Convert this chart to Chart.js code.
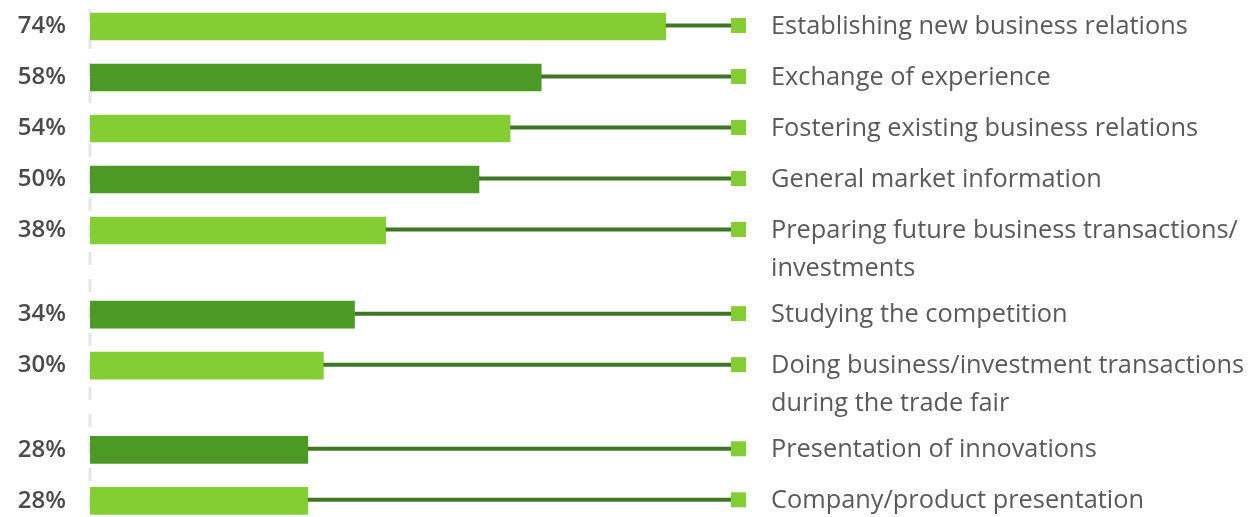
<!DOCTYPE html>
<html>
<head>
<meta charset="utf-8">
<script src="https://cdn.jsdelivr.net/npm/chart.js@4"></script>
<style>
  html, body { margin: 0; padding: 0; background: #ffffff; }
  #wrap { width: 1251px; height: 517px; position: relative; }
</style>
</head>
<body>
<div id="wrap"><canvas id="c" width="1251" height="517"></canvas></div>
<script>
// ---- data ----
const categories = [
  ["Establishing new business relations"],
  ["Exchange of experience"],
  ["Fostering existing business relations"],
  ["General market information"],
  ["Preparing future business transactions/", "investments"],
  ["Studying the competition"],
  ["Doing business/investment transactions", "during the trade fair"],
  ["Presentation of innovations"],
  ["Company/product presentation"]
];
const values = [74, 58, 54, 50, 38, 34, 30, 28, 28];
const percentLabels = ["74%", "58%", "54%", "50%", "38%", "34%", "30%", "28%", "28%"];

// ---- layout derived from label line counts ----
const EXTRA_LINE = 0.65; // extra row spacing per additional label line (in row units)
const rowPos = [];
categories.forEach((lines, i) => {
  if (i === 0) rowPos.push(0);
  else rowPos.push(rowPos[i - 1] + 1 + EXTRA_LINE * (categories[i - 1].length - 1));
});

const LIGHT = '#84cd33';
const DARK = '#4c9a25';
const LINE = '#3e7626';
const TEXT = '#595959';

const axisLinePlugin = {
  id: 'axisLine',
  beforeDatasetsDraw(chart) {
    const ctx = chart.ctx;
    const a = chart.chartArea;
    ctx.save();
    ctx.strokeStyle = '#e6e6e6';
    ctx.lineWidth = 3;
    ctx.setLineDash([13, 14]);
    ctx.lineDashOffset = 18;
    ctx.beginPath();
    ctx.moveTo(a.left, a.top);
    ctx.lineTo(a.left, a.bottom);
    ctx.stroke();
    ctx.restore();
  }
};

const connectorPlugin = {
  id: 'connectors',
  afterDatasetsDraw(chart) {
    const ctx = chart.ctx;
    const meta = chart.getDatasetMeta(0);
    const area = chart.chartArea;
    const sq = 15;
    const sqLeft = area.right - sq;
    ctx.save();
    ctx.font = "400 100px 'Open Sans'";
    const w100 = ctx.measureText("Establishing new business relations").width;
    const fs = 100 * 417 / w100;
    ctx.restore();

    meta.data.forEach((bar, i) => {
      const y = bar.y;
      ctx.save();
      ctx.strokeStyle = LINE;
      ctx.lineWidth = 4;
      ctx.beginPath();
      ctx.moveTo(bar.x, y - 1);
      ctx.lineTo(sqLeft, y - 1);
      ctx.stroke();
      ctx.fillStyle = LIGHT;
      ctx.fillRect(sqLeft, y - 1 - sq / 2, sq, sq);

      ctx.fillStyle = TEXT;
      ctx.font = `400 ${fs}px 'Open Sans'`;
      ctx.textAlign = 'left';
      ctx.textBaseline = 'middle';
      categories[i].forEach((line, k) => {
        ctx.fillText(line, area.right + 25, y + k * 38);
      });
      ctx.restore();
    });
  }
};

const PX_PER_ROW = 51;
const yMin = -26.5 / PX_PER_ROW;
const yMax = yMin + 517 / PX_PER_ROW;

new Chart(document.getElementById('c'), {
  type: 'bar',
  data: {
    datasets: [{
      data: values.map((v, i) => ({ x: v, y: rowPos[i] })),
      backgroundColor: values.map((v, i) => i % 2 === 0 ? LIGHT : DARK),
      borderWidth: 0,
      barThickness: 27
    }]
  },
  options: {
    indexAxis: 'y',
    responsive: false,
    animation: false,
    layout: { padding: { left: 0, right: 505, top: 0, bottom: 0 } },
    plugins: { legend: { display: false }, tooltip: { enabled: false } },
    scales: {
      x: {
        type: 'linear',
        display: false,
        min: 0,
        max: 656 / 7.78
      },
      y: {
        type: 'linear',
        reverse: true,
        offset: false,
        min: yMin,
        max: yMax,
        afterBuildTicks(scale) {
          scale.ticks = rowPos.map(v => ({ value: v }));
        },
        afterFit(scale) {
          scale.width = 90;
          scale.paddingTop = 0;
          scale.paddingBottom = 0;
        },
        grid: { display: false, drawTicks: false },
        border: { display: false },
        ticks: {
          autoSkip: false,
          padding: 24,
          color: '#4a4a4a',
          font: { family: "'Open Sans'", size: 24, weight: '600' },
          callback: (value, index) => percentLabels[index]
        }
      }
    }
  },
  plugins: [axisLinePlugin, connectorPlugin]
});
</script>
</body>
</html>
